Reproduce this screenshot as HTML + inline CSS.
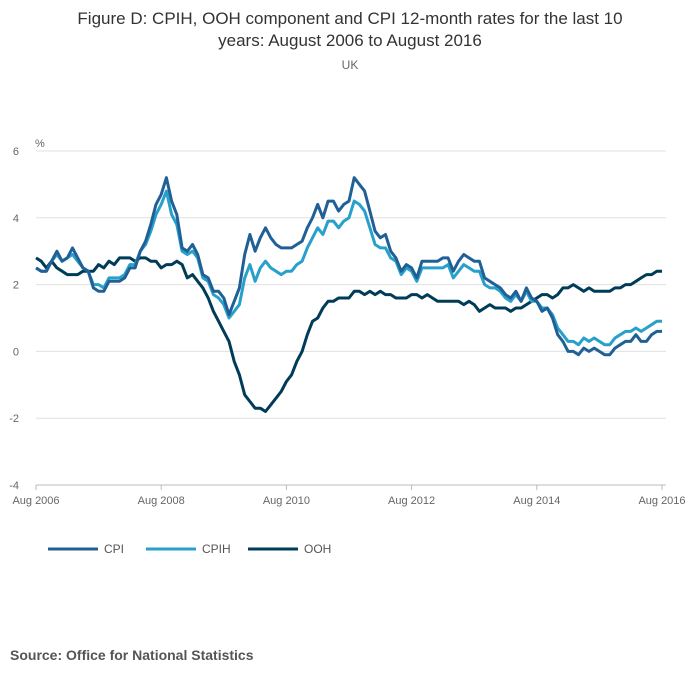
<!DOCTYPE html>
<html><head><meta charset="utf-8">
<style>
body{margin:0;background:#fff;font-family:"Liberation Sans",sans-serif;}
#wrap{position:relative;width:700px;height:682px;overflow:hidden;}
</style></head>
<body>
<div id="wrap">
<svg id="chart" width="700" height="682">
<text x="350" y="24" text-anchor="middle" font-size="17" fill="#333">Figure D: CPIH, OOH component and CPI 12-month rates for the last 10</text>
<text x="350" y="46" text-anchor="middle" font-size="17" fill="#333">years: August 2006 to August 2016</text>
<text x="350" y="69" text-anchor="middle" font-size="12" fill="#666">UK</text>
<text x="35" y="147" font-size="11" fill="#666">%</text>
<g id="grid"></g><g id="series"></g><g id="xaxis"></g>
<text x="10" y="660" font-size="14" font-weight="bold" fill="#555">Source: Office for National Statistics</text>
</svg>
</div>
<script>
const cpi=[2.5,2.4,2.4,2.7,3.0,
2.7,2.8,3.1,2.8,2.5,2.4,1.9,1.8,1.8,2.1,2.1,2.1,
2.2,2.5,2.5,3.0,3.3,3.8,4.4,4.7,5.2,4.5,4.1,3.1,
3.0,3.2,2.9,2.3,2.2,1.8,1.8,1.6,1.1,1.5,1.9,2.9,
3.5,3.0,3.4,3.7,3.4,3.2,3.1,3.1,3.1,3.2,3.3,3.7,
4.0,4.4,4.0,4.5,4.5,4.2,4.4,4.5,5.2,5.0,4.8,4.2,
3.6,3.4,3.5,3.0,2.8,2.4,2.6,2.5,2.2,2.7,2.7,2.7,
2.7,2.8,2.8,2.4,2.7,2.9,2.8,2.7,2.7,2.2,2.1,2.0,
1.9,1.7,1.6,1.8,1.5,1.9,1.6,1.5,1.2,1.3,1.0,0.5,
0.3,0.0,0.0,-0.1,0.1,0.0,0.1,0.0,-0.1,-0.1,0.1,0.2,
0.3,0.3,0.5,0.3,0.3,0.5,0.6,0.6];
const cpih=[2.5,2.4,2.4,2.7,2.9,
2.7,2.8,2.9,2.7,2.5,2.4,2.0,2.0,1.9,2.2,2.2,2.2,
2.3,2.6,2.6,3.0,3.2,3.6,4.1,4.4,4.8,4.1,3.8,3.0,
2.9,3.0,2.8,2.2,2.1,1.7,1.6,1.4,1.0,1.2,1.4,2.2,
2.6,2.1,2.5,2.7,2.5,2.4,2.3,2.4,2.4,2.6,2.7,3.1,
3.4,3.7,3.5,3.9,3.9,3.7,3.9,4.0,4.5,4.4,4.2,3.7,
3.2,3.1,3.1,2.8,2.7,2.3,2.5,2.4,2.1,2.5,2.5,2.5,
2.5,2.5,2.6,2.2,2.4,2.6,2.5,2.4,2.4,2.0,1.9,1.9,
1.8,1.6,1.5,1.7,1.5,1.8,1.5,1.5,1.3,1.3,1.1,0.7,
0.5,0.3,0.3,0.2,0.4,0.3,0.4,0.3,0.2,0.2,0.4,0.5,
0.6,0.6,0.7,0.6,0.7,0.8,0.9,0.9];
const ooh=[2.8,2.7,2.5,2.7,2.5,
2.4,2.3,2.3,2.3,2.4,2.4,2.4,2.6,2.5,2.7,2.6,2.8,
2.8,2.8,2.7,2.8,2.8,2.7,2.7,2.5,2.6,2.6,2.7,2.6,
2.2,2.3,2.1,1.9,1.6,1.2,0.9,0.6,0.3,-0.3,-0.7,-1.3,
-1.5,-1.7,-1.7,-1.8,-1.6,-1.4,-1.2,-0.9,-0.7,-0.3,0.0,0.5,
0.9,1.0,1.3,1.5,1.5,1.6,1.6,1.6,1.8,1.8,1.7,1.8,
1.7,1.8,1.7,1.7,1.6,1.6,1.6,1.7,1.7,1.6,1.7,1.6,
1.5,1.5,1.5,1.5,1.5,1.4,1.5,1.4,1.2,1.3,1.4,1.3,
1.3,1.3,1.2,1.3,1.3,1.4,1.5,1.6,1.7,1.7,1.6,1.7,
1.9,1.9,2.0,1.9,1.8,1.9,1.8,1.8,1.8,1.8,1.9,1.9,
2.0,2.0,2.1,2.2,2.3,2.3,2.4,2.4];
const yTicks=[6,4,2,0,-2,-4];
const xTickLabels=["Aug 2006","Aug 2008","Aug 2010","Aug 2012","Aug 2014","Aug 2016"];
const seriesNames=["CPI","CPIH","OOH"];

const NS="http://www.w3.org/2000/svg";
const X0=36,X1=662,Y6=151,Y_4=485;
function xs(i){return X0+(X1-X0)*i/120;}
function ys(v){return Y6+(6-v)*(Y_4-Y6)/10;}
function mk(tag,attrs,parent){const e=document.createElementNS(NS,tag);for(const k in attrs)e.setAttribute(k,attrs[k]);parent.appendChild(e);return e;}
const grid=document.getElementById('grid');
yTicks.forEach(t=>{
  const l=mk('line',{x1:X0,x2:X1+4,y1:ys(t),y2:ys(t),stroke:t===-4?'#bbb':'#e0e0e0','stroke-width':1},grid);
  
  
  const tx=mk('text',{x:19,y:ys(t)+4,'font-size':11,fill:'#666','text-anchor':'end'},grid);
  tx.textContent=t;
  
  
});
const xa=document.getElementById('xaxis');
xTickLabels.forEach((s,k)=>{
  const x=xs(k*24);
  const tk=mk('line',{x1:x,x2:x,y1:485,y2:490,stroke:'#bbb'},xa);
  
  
  const tx=mk('text',{x:x,y:504,'font-size':11,fill:'#666','text-anchor':'middle'},xa);
  tx.textContent=s;
  
  
});
const colors=["#206095","#27a0cc","#003c57"];
const data=[cpi,cpih,ooh];
const sg=document.getElementById('series');
[2,1,0].forEach(s=>{
  const pts=data[s].map((v,i)=>xs(i).toFixed(1)+','+ys(v).toFixed(1)).join(' ');
  const p=mk('polyline',{points:pts,fill:'none',stroke:colors[s],'stroke-width':3,'stroke-linejoin':'round'},sg);
  
  
});
const lx=[48,146,248];
seriesNames.forEach((n,s)=>{
  const g=mk('g',{},sg);
  
  
  mk('line',{x1:lx[s],x2:lx[s]+50,y1:549,y2:549,stroke:colors[s],'stroke-width':3},g);
  const t=mk('text',{x:lx[s]+56,y:553,'font-size':12,fill:'#555'},g);
  t.textContent=n;
});
</script>
</body></html>
